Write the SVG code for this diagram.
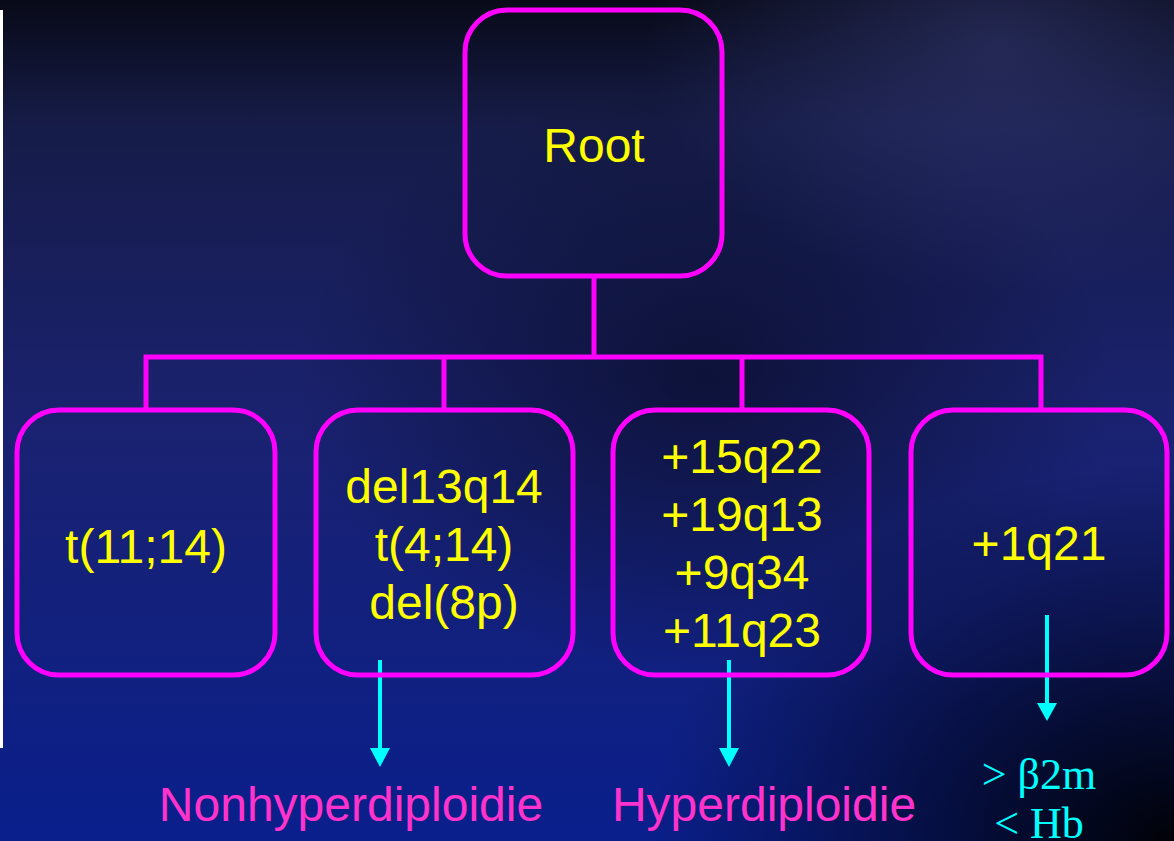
<svg xmlns="http://www.w3.org/2000/svg" width="1174" height="841" viewBox="0 0 1174 841">
<defs>
<linearGradient id="bgv" x1="0" y1="0" x2="0" y2="1">
<stop offset="0" stop-color="#080a18"/>
<stop offset="0.15" stop-color="#161c48"/>
<stop offset="0.5" stop-color="#1a2270"/>
<stop offset="1" stop-color="#0a1f8c"/>
</linearGradient>
<radialGradient id="dark" cx="0.6" cy="0.45" r="0.35">
<stop offset="0" stop-color="#050818" stop-opacity="0.6"/>
<stop offset="1" stop-color="#050818" stop-opacity="0"/>
</radialGradient>
<radialGradient id="darkbr" cx="1" cy="1" r="0.45">
<stop offset="0" stop-color="#000000" stop-opacity="0.95"/>
<stop offset="1" stop-color="#000000" stop-opacity="0"/>
</radialGradient>
<radialGradient id="light" cx="0.85" cy="0.05" r="0.3">
<stop offset="0" stop-color="#3a4080" stop-opacity="0.5"/>
<stop offset="1" stop-color="#3a4080" stop-opacity="0"/>
</radialGradient>
<style>
.box{fill:none;stroke:#ff00ff;stroke-width:5}
.conn{fill:none;stroke:#ff00ff;stroke-width:5}
.t{font-family:"Liberation Sans",Arial,sans-serif;font-size:48px;fill:#ffff00;text-anchor:middle}
.lab{font-family:"Liberation Sans",Arial,sans-serif;font-size:48px;fill:#ff33cc;text-anchor:middle}
.cy{font-family:"Liberation Serif","Times New Roman",serif;font-size:44px;fill:#00ffff;text-anchor:middle}
.arr{stroke:#00ffff;stroke-width:4;fill:none}
.ah{fill:#00ffff}
</style>
</defs>
<rect width="1174" height="841" fill="url(#bgv)"/>
<rect width="1174" height="841" fill="url(#dark)"/>
<rect width="1174" height="841" fill="url(#light)"/>
<rect width="1174" height="841" fill="url(#darkbr)"/>
<rect x="0" y="10" width="3" height="738" fill="#ffffff"/>
<g id="connectors">
<path class="conn" d="M594,276 V357"/>
<path class="conn" d="M146,410 V357 H1041 V410"/>
<path class="conn" d="M444,357 V410"/>
<path class="conn" d="M742,357 V410"/>
<path class="arr" d="M380,660 V750"/>
<path class="ah" d="M370,748 L390,748 L380,767 z"/>
<path class="arr" d="M729,660 V750"/>
<path class="ah" d="M719,748 L739,748 L729,767 z"/>
<path class="arr" d="M1047,615 V705"/>
<path class="ah" d="M1037,703 L1057,703 L1047,721 z"/>
</g>
<g id="root">
<rect class="box" x="465" y="10" width="257" height="266" rx="42"/>
<text class="t" x="594" y="162">Root</text>
</g>
<g id="n1">
<rect class="box" x="17" y="410" width="258" height="265" rx="42"/>
<text class="t" x="146" y="563">t(11;14)</text>
</g>
<g id="n2">
<rect class="box" x="316" y="410" width="257" height="265" rx="42"/>
<text class="t" x="444" y="503">del13q14</text>
<text class="t" x="444" y="561">t(4;14)</text>
<text class="t" x="444" y="619">del(8p)</text>
</g>
<g id="n3">
<rect class="box" x="613" y="410" width="256" height="265" rx="42"/>
<text class="t" x="742" y="473">+15q22</text>
<text class="t" x="742" y="531">+19q13</text>
<text class="t" x="742" y="589">+9q34</text>
<text class="t" x="742" y="647">+11q23</text>
</g>
<g id="n4">
<rect class="box" x="911" y="410" width="256" height="265" rx="42"/>
<text class="t" x="1039" y="560">+1q21</text>
</g>
<g id="labels">
<text class="lab" x="351" y="821">Nonhyperdiploidie</text>
<text class="lab" x="764" y="821">Hyperdiploidie</text>
<text class="cy" x="1039" y="789">&gt; β2m</text>
<text class="cy" x="1039" y="838">&lt; Hb</text>
</g>
</svg>
